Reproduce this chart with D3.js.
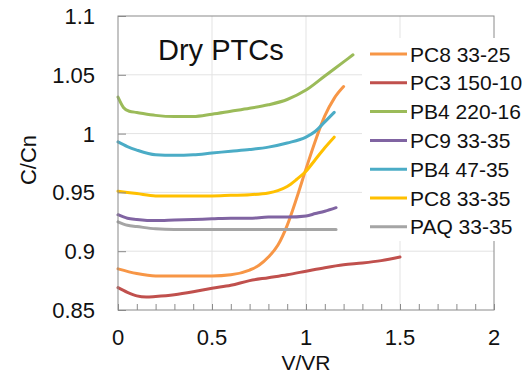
<!DOCTYPE html>
<html><head><meta charset="utf-8">
<script src="https://cdn.jsdelivr.net/npm/d3@7"></script>
<style>body{margin:0;background:#fff}svg{display:block}text{font-family:"Liberation Sans",Arial,sans-serif;fill:#111}</style>
</head><body><svg id="c" width="526" height="373"></svg>
<script>
const seriesNames = ["PC8 33-25","PC3 150-10","PB4 220-16","PC9 33-35","PB4 47-35","PC8 33-35","PAQ 33-35"];
const seriesColors = ["#F79646","#C0504D","#9BBB59","#8064A2","#4BACC6","#FFC000","#A5A5A5"];
const xPC8_3325 = [0,0.1,0.2,0.3,0.4,0.5,0.6,0.7,0.75,0.8,0.85,0.9,0.95,1.0,1.05,1.1,1.15,1.2];
const yPC8_3325 = [0.885,0.881,0.879,0.879,0.879,0.879,0.880,0.884,0.888,0.895,0.905,0.922,0.945,0.970,0.994,1.015,1.030,1.040];
const xPC3 = [0,0.05,0.1,0.15,0.2,0.3,0.4,0.5,0.6,0.7,0.8,0.9,1.0,1.1,1.2,1.3,1.4,1.5];
const yPC3 = [0.869,0.865,0.862,0.861,0.8615,0.863,0.8655,0.8685,0.871,0.875,0.8775,0.880,0.883,0.886,0.8885,0.890,0.892,0.895];
const xPB4_220 = [0,0.03,0.06,0.1,0.2,0.3,0.4,0.5,0.6,0.7,0.8,0.9,1.0,1.1,1.2,1.25];
const yPB4_220 = [1.031,1.022,1.019,1.018,1.0155,1.0145,1.0145,1.0165,1.019,1.0215,1.0245,1.029,1.037,1.049,1.061,1.067];
const xPC9 = [0,0.05,0.1,0.2,0.3,0.4,0.5,0.6,0.7,0.8,0.9,1.0,1.05,1.1,1.16];
const yPC9 = [0.931,0.928,0.927,0.926,0.9265,0.927,0.9275,0.928,0.928,0.929,0.929,0.930,0.932,0.934,0.937];
const xPB4_47 = [0,0.05,0.1,0.2,0.3,0.4,0.5,0.6,0.7,0.8,0.9,1.0,1.05,1.1,1.15];
const yPB4_47 = [0.993,0.989,0.986,0.982,0.9815,0.982,0.9835,0.985,0.9865,0.9885,0.992,0.997,1.002,1.010,1.018];
const xPC8_3335 = [0,0.1,0.2,0.3,0.4,0.5,0.6,0.7,0.8,0.85,0.9,0.95,1.0,1.05,1.1,1.15];
const yPC8_3335 = [0.951,0.949,0.947,0.947,0.947,0.947,0.9475,0.948,0.9495,0.9515,0.955,0.961,0.968,0.978,0.988,0.997];
const xPAQ = [0,0.05,0.1,0.2,0.3,0.4,0.5,0.6,0.7,0.8,0.9,1.0,1.1,1.16];
const yPAQ = [0.925,0.922,0.921,0.919,0.9185,0.9185,0.9185,0.9185,0.9185,0.9185,0.9185,0.9185,0.9185,0.9185];
const xTicks = [0,0.5,1,1.5,2];
const yTicks = [0.85,0.9,0.95,1,1.05,1.1];
const xTickLabels = ["0","0.5","1","1.5","2"];
const yTickLabels = ["0.85","0.9","0.95","1","1.05","1.1"];
const title = "Dry PTCs", xTitle = "V/VR", yTitle = "C/Cn";

const xs = [xPC8_3325,xPC3,xPB4_220,xPC9,xPB4_47,xPC8_3335,xPAQ];
const ys = [yPC8_3325,yPC3,yPB4_220,yPC9,yPB4_47,yPC8_3335,yPAQ];

const svg = d3.select("#c");
const L=118,R=494,T=16,B=310;
const x = d3.scaleLinear().domain([0,2]).range([L,R]);
const y = d3.scaleLinear().domain([0.85,1.1]).range([B,T]);

// gridlines
svg.append("g").selectAll("line").data(yTicks.slice(1,-1)).join("line")
  .attr("x1",L).attr("x2",R).attr("y1",d=>y(d)).attr("y2",d=>y(d)).attr("stroke","#e3e3e3").attr("stroke-width",1);
svg.append("g").selectAll("line").data(xTicks.slice(1,-1)).join("line")
  .attr("y1",T).attr("y2",B).attr("x1",d=>x(d)).attr("x2",d=>x(d)).attr("stroke","#e3e3e3").attr("stroke-width",1);

// series
const line = d3.line().x(d=>x(d[0])).y(d=>y(d[1])).curve(d3.curveMonotoneX);
const order=[1,0,6,3,5,4,2];
svg.append("g").selectAll("path").data(order).join("path")
  .attr("d",i=>line(xs[i].map((v,j)=>[v,ys[i][j]])))
  .attr("fill","none").attr("stroke",i=>seriesColors[i]).attr("stroke-width",3).attr("stroke-linejoin","round").attr("stroke-linecap","round");

// frame
svg.append("rect").attr("x",L).attr("y",T).attr("width",R-L).attr("height",B-T).attr("fill","none").attr("stroke","#8a8a8a").attr("stroke-width",1);

// axes ticks (inward)
const xAxis = d3.axisBottom(x).tickValues(d3.range(0,2.0001,0.1)).tickSize(-6).tickFormat("");
svg.append("g").attr("transform",`translate(0,${B})`).call(xAxis).call(g=>{g.select(".domain").remove();g.selectAll("line").attr("stroke","#8a8a8a");});
const yAxis = d3.axisLeft(y).tickValues(yTicks).tickSize(-8).tickFormat("");
svg.append("g").attr("transform",`translate(${L},0)`).call(yAxis).call(g=>{g.select(".domain").remove();g.selectAll("line").attr("stroke","#8a8a8a");});

// tick labels
svg.append("g").selectAll("text").data(yTicks).join("text")
  .attr("x",95).attr("y",d=>y(d)).attr("dy","0.36em").attr("text-anchor","end").attr("font-size",22).text((d,i)=>yTickLabels[i]);
svg.append("g").selectAll("text").data(xTicks).join("text")
  .attr("x",d=>x(d)).attr("y",345).attr("text-anchor","middle").attr("font-size",22).text((d,i)=>xTickLabels[i]);

// axis titles
svg.append("text").attr("x",306).attr("y",370).attr("text-anchor","middle").attr("font-size",21).text(xTitle);
svg.append("text").attr("transform","translate(36,160) rotate(-90)").attr("text-anchor","middle").attr("font-size",22).text(yTitle);

// title
svg.append("text").attr("x",158).attr("y",60).attr("font-size",29).text(title);

// legend
svg.append("rect").attr("x",362).attr("y",38).attr("width",164).attr("height",203).attr("fill","#fff");
const lg = svg.append("g").selectAll("g").data(seriesNames).join("g")
  .attr("transform",(d,i)=>`translate(370,${54+i*28.8})`);
lg.append("line").attr("x1",0).attr("x2",37).attr("stroke",(d,i)=>seriesColors[i]).attr("stroke-width",3);
lg.append("text").attr("x",40).attr("dy","0.36em").attr("font-size",21).text(d=>d);
</script></body></html>
